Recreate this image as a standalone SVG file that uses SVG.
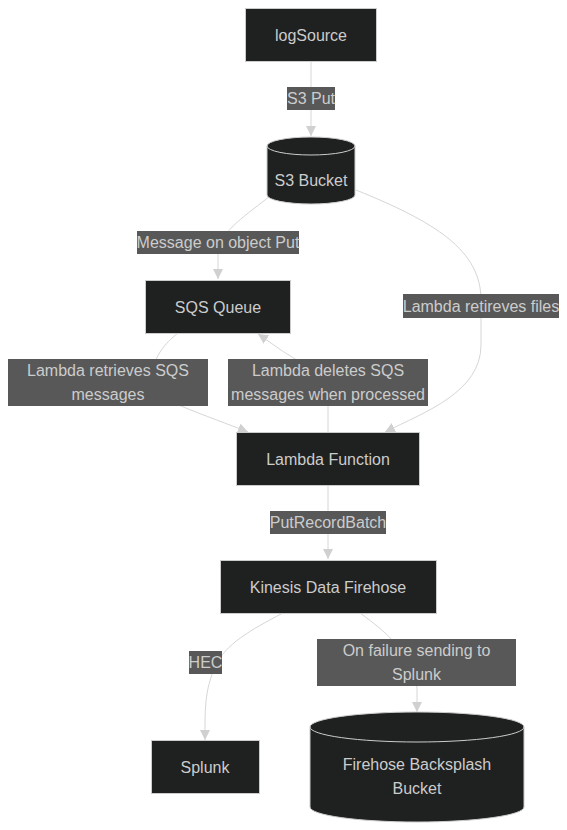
<svg xmlns="http://www.w3.org/2000/svg" width="567" height="830" viewBox="0 0 567 830">
<style>
.node rect,.node path{fill:#1f2020;stroke:#cccccc;stroke-width:1}
.nt{font-family:"Liberation Sans",Arial,sans-serif;font-size:16px;fill:#cccccc;text-anchor:middle;dominant-baseline:central}
.edge{fill:none;stroke:#d6d6d6;stroke-width:1}
.lbl rect{fill:#585858}
.lt{font-family:"Liberation Sans",Arial,sans-serif;font-size:16px;fill:#cccccc;text-anchor:middle;dominant-baseline:central}
</style>
<defs>
<marker id="arr" viewBox="0 0 10 10" refX="10" refY="5" markerWidth="10" markerHeight="10" markerUnits="userSpaceOnUse" orient="auto">
<path d="M0,0 L10,5 L0,10 z" fill="#d0d0d0"/>
</marker>
</defs>
<rect width="567" height="830" fill="#ffffff"/>
<g id="connectors">
<path class="edge" d="M311,61 L311,136" marker-end="url(#arr)"/>
<path class="edge" d="M270,196 C248,214 221,230 218,252 L218,279" marker-end="url(#arr)"/>
<path class="edge" d="M356,190 C435,222 481,250 481,300 L481,345 C481,392 425,412 385,432" marker-end="url(#arr)"/>
<path class="edge" d="M178,333 C150,355 140,385 181,406 C205,416 228,424 248,432" marker-end="url(#arr)"/>
<path class="edge" d="M328,432 L328,400 C322,375 300,362 292,357 C280,350 270,342 258,334" marker-end="url(#arr)"/>
<path class="edge" d="M328,485 L328,559" marker-end="url(#arr)"/>
<path class="edge" d="M283,613 C250,630 225,645 216,665 C204,690 205,712 205,740" marker-end="url(#arr)"/>
<path class="edge" d="M360,613 C375,624 385,632 392,640 C410,660 417,680 417,690 L417,712" marker-end="url(#arr)"/>
</g>
<g id="edge-labels">
<g class="lbl"><rect x="287" y="87" width="48" height="23"/><text class="lt" x="311" y="98.5">S3 Put</text></g>
<g class="lbl"><rect x="137" y="231" width="162" height="23"/><text class="lt" x="218" y="242.5">Message on object Put</text></g>
<g class="lbl"><rect x="403" y="294" width="156" height="24"/><text class="lt" x="481" y="306">Lambda retireves files</text></g>
<g class="lbl"><rect x="8" y="359" width="200" height="47"/><text class="lt" x="108" y="370.5">Lambda retrieves SQS</text><text class="lt" x="108" y="394.5">messages</text></g>
<g class="lbl"><rect x="228" y="359" width="200" height="47"/><text class="lt" x="328" y="370.5">Lambda deletes SQS</text><text class="lt" x="328" y="394.5">messages when processed</text></g>
<g class="lbl"><rect x="270" y="511" width="116" height="23"/><text class="lt" x="328" y="522.5">PutRecordBatch</text></g>
<g class="lbl"><rect x="189" y="651" width="33" height="23"/><text class="lt" x="205.5" y="662.5">HEC</text></g>
<g class="lbl"><rect x="317" y="639" width="199" height="47"/><text class="lt" x="416.5" y="650.5">On failure sending to</text><text class="lt" x="416.5" y="674.5">Splunk</text></g>
</g>
<g id="logSource" class="node"><rect x="245.5" y="8.5" width="131" height="53"/><text class="nt" x="311" y="35">logSource</text></g>
<g id="s3bucket" class="node"><path d="M267,146 a44,9 0 0,0 88,0 a44,9 0 0,0 -88,0 l0,49 a44,9 0 0,0 88,0 l0,-49"/><text class="nt" x="311" y="180">S3 Bucket</text></g>
<g id="sqsQueue" class="node"><rect x="145.5" y="280.5" width="145" height="53"/><text class="nt" x="218" y="307">SQS Queue</text></g>
<g id="lambdaFunction" class="node"><rect x="236.5" y="432.5" width="183" height="53"/><text class="nt" x="328" y="459">Lambda Function</text></g>
<g id="firehose" class="node"><rect x="220.5" y="560.5" width="216" height="53"/><text class="nt" x="328" y="587">Kinesis Data Firehose</text></g>
<g id="splunk" class="node"><rect x="151.5" y="740.5" width="108" height="53"/><text class="nt" x="205" y="767">Splunk</text></g>
<g id="backsplash" class="node"><path d="M310,727 a107,15 0 0,0 214,0 a107,15 0 0,0 -214,0 l0,80 a107,15 0 0,0 214,0 l0,-80"/><text class="nt" x="417" y="764.5">Firehose Backsplash</text><text class="nt" x="417" y="788.5">Bucket</text></g>
</svg>
